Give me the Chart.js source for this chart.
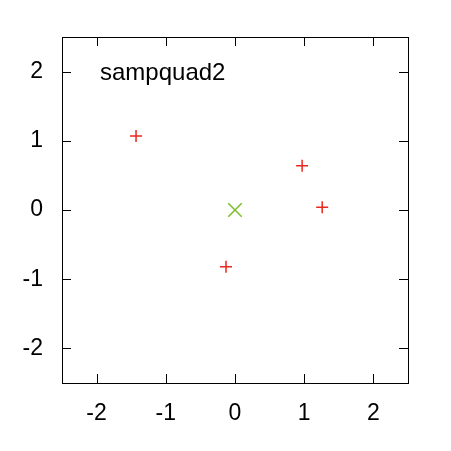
<!DOCTYPE html>
<html>
  <head>
    <script src="https://cdn.jsdelivr.net/npm/chart.js"></script>
    <meta charset="utf-8">
    <style>
      body { margin: 0; background: #fff; }
      #wrap { width: 451px; height: 451px; }
    </style>
  </head>
  <body>
    <div id="wrap"><canvas id="gura"></canvas></div>
    <script>
      // データ
      const redX = [-1.43, 0.97, 1.26, -0.13];
      const redY = [1.07, 0.64, 0.04, -0.82];
      const greenX = [0];
      const greenY = [0];
      const tickVals = [-2, -1, 0, 1, 2];
      const label = 'sampquad2';

      const redPts = redX.map((x, i) => ({ x: x, y: redY[i] }));
      const greenPts = greenX.map((x, i) => ({ x: x, y: greenY[i] }));

      // 枠と内向きの目盛り
      const frame = {
        id: 'frame',
        afterDraw(chart) {
          const c = chart.ctx;
          const a = chart.chartArea;
          const sx = chart.scales.x, sy = chart.scales.y;
          c.save();
          c.strokeStyle = '#000';
          c.lineWidth = 1;
          c.strokeRect(a.left + 0.5, a.top + 0.5, a.right - a.left, a.bottom - a.top);
          c.beginPath();
          tickVals.forEach(v => {
            const px = Math.round(sx.getPixelForValue(v)) + 0.5;
            c.moveTo(px, a.bottom); c.lineTo(px, a.bottom - 9);
            c.moveTo(px, a.top); c.lineTo(px, a.top + 9);
            const py = Math.round(sy.getPixelForValue(v)) + 0.5;
            c.moveTo(a.left, py); c.lineTo(a.left + 9, py);
            c.moveTo(a.right, py); c.lineTo(a.right - 9, py);
          });
          c.stroke();
          c.fillStyle = '#000';
          c.font = '24px "Liberation Sans", Arial, sans-serif';
          c.textBaseline = 'alphabetic';
          c.fillText(label, a.left + 38, a.top + 43);
          c.restore();
        }
      };

      const tickFont = { family: '"Liberation Sans", Arial, sans-serif', size: 23 };

      new Chart(document.getElementById('gura'), {
        type: 'scatter',
        data: {
          datasets: [
            {
              data: redPts,
              pointStyle: 'cross',
              pointRadius: 6,
              pointHoverRadius: 6,
              borderColor: 'rgb(232,40,30)',
              borderWidth: 1.5
            },
            {
              data: greenPts,
              pointStyle: 'crossRot',
              pointRadius: 9.5,
              pointHoverRadius: 9.5,
              borderColor: 'rgb(122,190,40)',
              borderWidth: 1.5
            }
          ]
        },
        options: {
          responsive: true,
          maintainAspectRatio: false,
          animation: false,
          events: [],
          layout: { padding: { top: 37, right: 43, left: 0, bottom: 0 } },
          plugins: { legend: { display: false }, tooltip: { enabled: false } },
          scales: {
            x: {
              min: -2.5, max: 2.5,
              afterBuildTicks(s) { s.ticks = tickVals.map(v => ({ value: v })); },
              afterFit(s) { s.height = 68; },
              grid: { display: false, drawTicks: false },
              border: { display: false },
              ticks: { color: '#000', font: tickFont, padding: 17, maxRotation: 0 }
            },
            y: {
              min: -2.5, max: 2.5,
              afterBuildTicks(s) { s.ticks = tickVals.map(v => ({ value: v })); },
              afterFit(s) { s.width = 62; },
              grid: { display: false, drawTicks: false },
              border: { display: false },
              ticks: { color: '#000', font: tickFont, padding: 19 }
            }
          }
        },
        plugins: [frame]
      });
    </script>
  </body>
</html>
